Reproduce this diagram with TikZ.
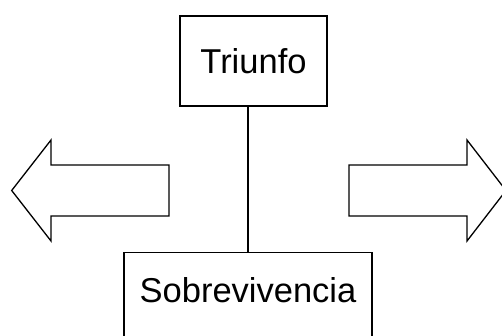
\documentclass[tikz,border=0pt]{standalone}
\usepackage{fontspec}
\setmainfont{Liberation Sans}
\usepackage{tikz}

\begin{document}
\begin{tikzpicture}[x=1pt,y=-1pt,line width=1.3pt,
    every node/.style={draw,inner sep=0pt,font=\fontsize{34.5}{40}\selectfont},
    bigarrow/.style={draw,line width=1.3pt,line join=miter}]
  \useasboundingbox (0,0) rectangle (502,336);
  \clip (0,0) rectangle (502,336);
  \node[minimum width=147pt,minimum height=90pt] (triunfo) at (253.5,61) {Triunfo};
  \node[anchor=north,minimum width=248pt,text height=50pt,text depth=48pt]
    (sobre) at (248,252) {Sobrevivencia};
  \draw (sobre.north) -- (sobre.north |- triunfo.south);
  % flechas a los lados
  \draw[bigarrow] (169,165) -- (51,165) -- (51,140) -- (11.7,190.5)
    -- (51,241) -- (51,216) -- (169,216) -- cycle;
  \draw[bigarrow] (349,165) -- (467,165) -- (467,140) -- (506,190.5)
    -- (467,241) -- (467,216) -- (349,216) -- cycle;
\end{tikzpicture}
\end{document}
